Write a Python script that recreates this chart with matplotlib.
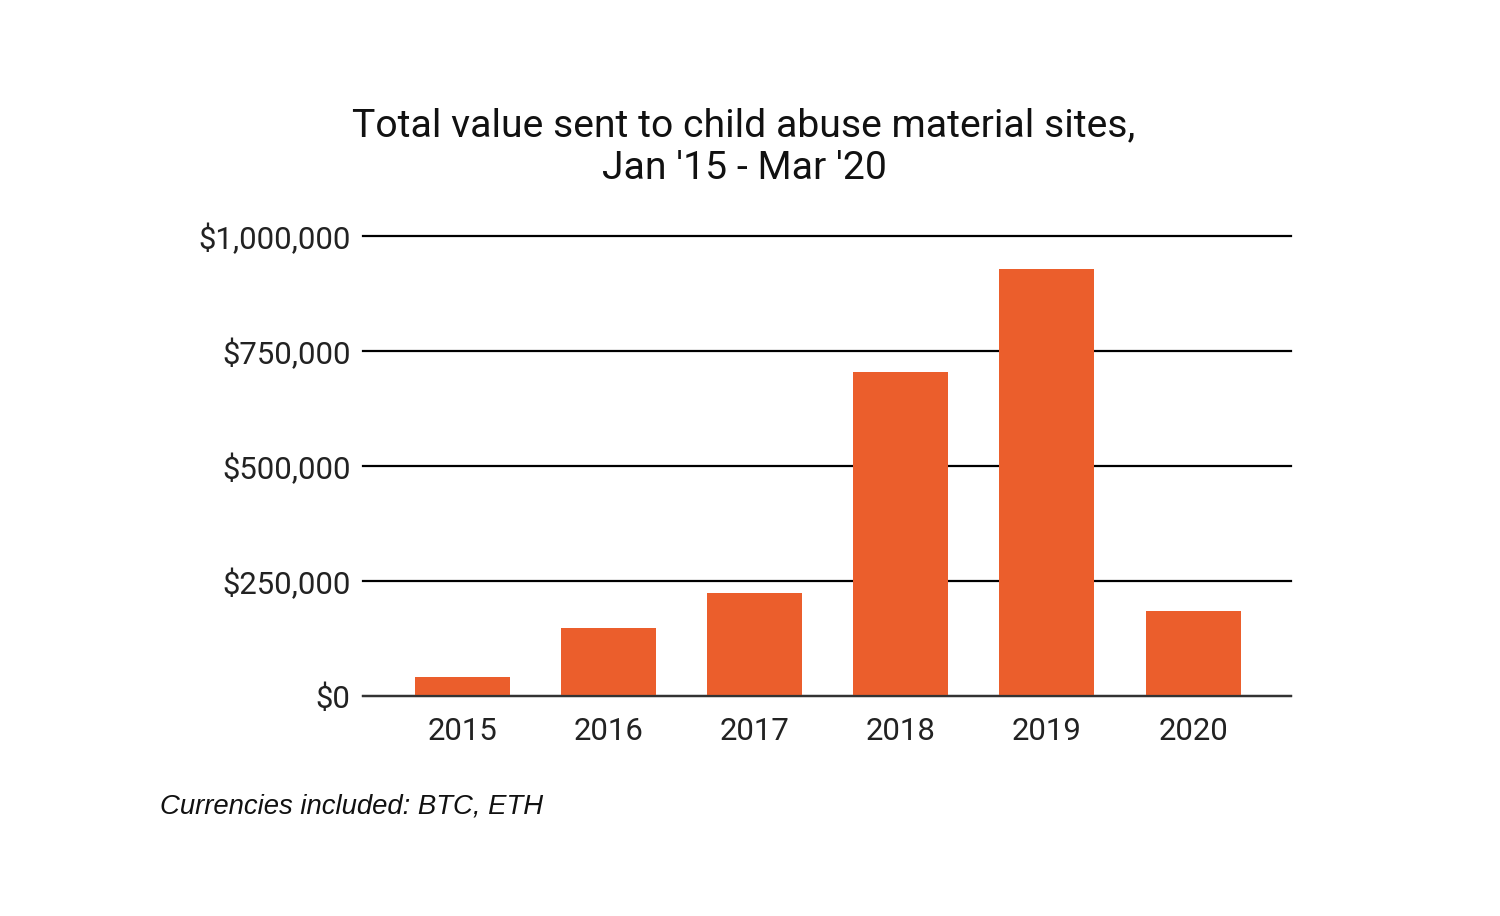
import matplotlib
matplotlib.use("Agg")
import matplotlib.pyplot as plt
from matplotlib.ticker import FuncFormatter

years = ["2015", "2016", "2017", "2018", "2019", "2020"]
values = [42000, 148000, 224000, 704000, 928000, 185000]
yticks = [0, 250000, 500000, 750000, 1000000]

fig = plt.figure(figsize=(15, 9.16), dpi=100)
ax = fig.add_axes([0.242, 0.2402, 0.6187, 0.5022])
x = list(range(len(years)))
ax.bar(x, values, width=0.65, color="#EB5E2C", zorder=3)
ax.set_xlim(-0.68, 5.67)
ax.set_ylim(0, 1000000)
ax.set_yticks(yticks)
ax.yaxis.set_major_formatter(FuncFormatter(lambda v, p: f"${int(v):,}"))
ax.set_xticks(x)
ax.set_xticklabels(years)
ax.grid(axis="y", color="#000000", linewidth=1.6, zorder=1)
for gl in ax.get_ygridlines():
    gl.set_clip_on(False)
for s in ["top", "right", "left"]:
    ax.spines[s].set_visible(False)
ax.spines["bottom"].set_color("#333333")
ax.spines["bottom"].set_linewidth(1.6)
ax.spines["bottom"].set_zorder(4)
ax.tick_params(length=0, labelsize=22.4)
ax.tick_params(axis="y", pad=9)
ax.tick_params(axis="x", pad=15)
for lab in ax.get_xticklabels() + ax.get_yticklabels():
    lab.set_fontfamily("Roboto")
    lab.set_color("#222222")

fig.text(0.496, 0.839, "Total value sent to child abuse material sites,\nJan '15 - Mar '20",
         ha="center", va="center", fontsize=28.2, family="Roboto", color="#111111",
         linespacing=1.2)
fig.text(0.107, 0.12, "Currencies included: BTC, ETH", ha="left", va="center",
         fontsize=19.8, family="Liberation Sans", style="italic", color="#111111")

fig.savefig("out.png", dpi=100, facecolor="white")
